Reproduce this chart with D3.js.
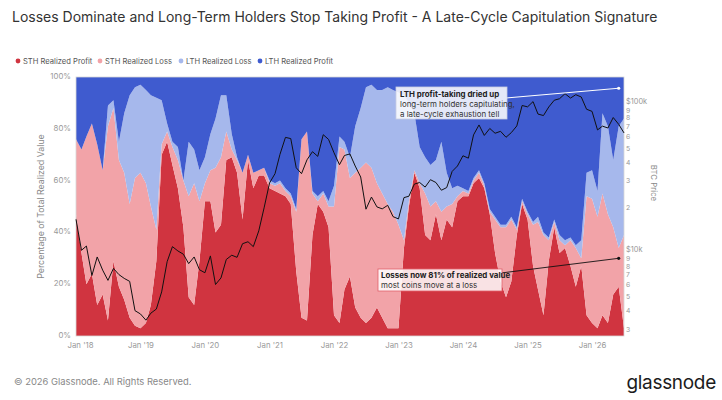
<!DOCTYPE html>
<html>
<head>
<meta charset="utf-8">
<script src="https://cdn.jsdelivr.net/npm/d3@7"></script>
<style>
  body { margin: 0; background: #fff; }
  svg text { font-family: Inter, "Noto Sans", sans-serif; }
</style>
</head>
<body>
<svg id="chart" width="722" height="400"></svg>
<script>
// monthly observations, Jan 2018 .. Jul 2026
const months = [
  "2018-01","2018-02","2018-03","2018-04","2018-05","2018-06","2018-07","2018-08","2018-09","2018-10","2018-11","2018-12",
  "2019-01","2019-02","2019-03","2019-04","2019-05","2019-06","2019-07","2019-08","2019-09","2019-10","2019-11","2019-12",
  "2020-01","2020-02","2020-03","2020-04","2020-05","2020-06","2020-07","2020-08","2020-09","2020-10","2020-11","2020-12",
  "2021-01","2021-02","2021-03","2021-04","2021-05","2021-06","2021-07","2021-08","2021-09","2021-10","2021-11","2021-12",
  "2022-01","2022-02","2022-03","2022-04","2022-05","2022-06","2022-07","2022-08","2022-09","2022-10","2022-11","2022-12",
  "2023-01","2023-02","2023-03","2023-04","2023-05","2023-06","2023-07","2023-08","2023-09","2023-10","2023-11","2023-12",
  "2024-01","2024-02","2024-03","2024-04","2024-05","2024-06","2024-07","2024-08","2024-09","2024-10","2024-11","2024-12",
  "2025-01","2025-02","2025-03","2025-04","2025-05","2025-06","2025-07","2025-08","2025-09","2025-10","2025-11","2025-12",
  "2026-01","2026-02","2026-03","2026-04","2026-05","2026-06","2026-07"
];

// share of total realized value, %
const sthProfit = [47,32,20,24,12,16,6,29,19,14,7,4, 3,5,12,29,70,75,66,57,42,15,12,29,
  52,52,40,43,68,69,63,45,68,57,62,62, 57,56,55,54,51,25,7,6,39,51,48,42,
  8,5,18,23,11,7,5,7,11,7,3,3, 3,34,50,63,57,39,37,47,37,45,42,52,
  54,54,59,61,57,47,32,21,15,21,39,51, 45,27,18,8,29,42,32,34,27,19,27,8,
  5,3,8,5,16,19,3];
const sthLoss = [29,40,57,58,62,48,75,59,49,49,44,57, 60,54,38,12,4,4,7,11,18,39,47,23,
  7,12,25,26,11,3,5,18,2,6,2,3, 2,2,4,2,3,23,69,73,16,1,7,8,
  42,68,54,38,52,58,62,58,48,48,48,45, 40,3,2,1,2,16,13,5,11,5,9,2,
  2,1,1,2,1,1,13,21,27,24,2,1, 2,16,26,31,8,2,5,1,10,15,3,46,
  48,43,47,42,26,15,36];
const lthLoss = [0,0,0,0,0,0,8,3,7,23,42,35, 34,36,43,51,17,3,2,5,0,21,13,12,
  10,14,19,24,14,6,1,0,0,0,0,0, 1,1,1,1,1,1,0,0,1,2,1,2,
  8,4,3,8,18,23,29,32,36,40,45,47, 51,56,38,22,14,14,16,16,27,13,6,4,
  1,1,1,1,1,1,1,1,1,1,1,1, 1,1,2,1,1,1,2,2,1,1,7,9,
  11,10,31,34,26,47,45];
const lthProfit = [24,28,23,18,26,36,11,9,25,14,7,4, 3,5,7,8,9,18,25,27,40,25,28,36,
  31,22,16,7,7,22,31,37,30,37,36,35, 40,41,40,43,45,51,24,21,44,46,44,48,
  42,23,25,31,19,12,4,3,5,5,4,5, 6,7,10,14,27,31,34,32,25,37,43,42,
  43,44,39,36,41,51,54,57,57,54,58,47, 52,56,54,60,62,55,61,63,62,65,63,37,
  36,44,14,19,32,19,16];

// BTC price, USD
const btcPrice = [16500,10200,10900,6900,9200,7500,6400,7700,7000,6600,6300,4000,
  3800,3450,3850,4100,5350,8550,10800,10100,9600,8300,9200,7550,
  7200,9350,6000,6650,8850,9450,9150,11300,11650,10800,13800,19700,
  29000,33500,45200,58800,57700,36700,33500,41500,47100,43800,61300,57000,
  46300,38500,44400,45500,37700,31800,19300,23300,20000,19400,20500,17200,
  16600,23100,23600,28500,29200,27200,30500,29200,25900,27000,34700,37700,
  44200,42600,61100,71300,60600,67500,62700,64600,58900,63300,70200,96400,
  94400,102400,84400,82500,94200,104600,107100,115800,108200,114000,110000,91000,
  88000,66000,70000,68000,80000,72000,63000];

const seriesKeys = ["sthProfit", "sthLoss", "lthLoss", "lthProfit"];
const seriesNames = ["STH Realized Profit", "STH Realized Loss", "LTH Realized Loss", "LTH Realized Profit"];
const seriesColors = ["#d03440", "#f2a3a8", "#a6b8ec", "#3f5bcf"];

const pctTicks = [0, 20, 40, 60, 80, 100];
const priceTicks = [3000,4000,5000,6000,7000,8000,9000,10000,20000,30000,40000,50000,60000,70000,80000,90000,100000];
const yearTicks = ["2018","2019","2020","2021","2022","2023","2024","2025","2026"];

const margin = { left: 76, right: 624, top: 77, bottom: 336 };

const parseMonth = d3.timeParse("%Y-%m");
const rows = months.map((m, i) => ({
  date: parseMonth(m),
  sthProfit: sthProfit[i], sthLoss: sthLoss[i], lthLoss: lthLoss[i], lthProfit: lthProfit[i],
  price: btcPrice[i]
}));

const svg = d3.select("#chart");

const x = d3.scaleTime()
  .domain([parseMonth("2018-01"), parseMonth("2026-07")])
  .range([margin.left, margin.right]);
const y = d3.scaleLinear().domain([0, 100]).range([margin.bottom, margin.top]);
const yPrice = d3.scaleLog().domain([2700, 150000]).range([margin.bottom, margin.top]);

// title
svg.append("text")
  .attr("x", 12).attr("y", 22)
  .attr("font-size", 14).attr("fill", "#333")
  .text("Losses Dominate and Long-Term Holders Stop Taking Profit - A Late-Cycle Capitulation Signature");

// legend
const legendX = [18, 100, 181, 260];
const legend = svg.append("g");
seriesNames.forEach((name, i) => {
  const g = legend.append("g").attr("transform", `translate(${legendX[i]},61)`);
  g.append("circle").attr("r", 2.4).attr("fill", seriesColors[i]);
  g.append("text").attr("x", 5).attr("y", 2.8)
    .attr("font-size", 7.6).attr("fill", "#555").text(name);
});

// stacked areas
const stack = d3.stack().keys(seriesKeys);
const stacked = stack(rows);
const area = d3.area()
  .x(d => x(d.data.date))
  .y0(d => y(d[0]))
  .y1(d => y(d[1]));

svg.append("g")
  .selectAll("path")
  .data(stacked)
  .enter()
  .append("path")
  .attr("d", area)
  .attr("fill", (d, i) => seriesColors[i]);

svg.append("rect")
  .attr("x", margin.left).attr("y", margin.top)
  .attr("width", margin.right - margin.left).attr("height", margin.bottom - margin.top)
  .attr("fill", "none").attr("stroke", "#d8d8d8").attr("stroke-width", 0.8);

// BTC price line
const priceLine = d3.line()
  .x(d => x(d.date))
  .y(d => yPrice(d.price));
svg.append("path")
  .datum(rows)
  .attr("d", priceLine)
  .attr("fill", "none")
  .attr("stroke", "#111")
  .attr("stroke-width", 1);

// left axis
const leftAxis = svg.append("g")
  .attr("transform", `translate(${margin.left - 2},0)`)
  .call(d3.axisLeft(y).tickValues(pctTicks).tickFormat(d => d + "%").tickSize(0));
leftAxis.select(".domain").remove();
leftAxis.selectAll("text").attr("font-size", 7.8).attr("fill", "#999").attr("dy", "0.2em");

svg.append("text")
  .attr("transform", `translate(44,${(margin.top + margin.bottom) / 2}) rotate(-90)`)
  .attr("text-anchor", "middle")
  .attr("font-size", 8.8).attr("fill", "#888")
  .text("Percentage of Total Realized Value");

// right axis (log)
const rightAxis = svg.append("g")
  .attr("transform", `translate(${margin.right + 2},0)`)
  .call(d3.axisRight(yPrice).tickValues(priceTicks).tickSize(0)
    .tickFormat(d => d === 10000 ? "$10k" : d === 100000 ? "$100k" : String(d).charAt(0)));
rightAxis.select(".domain").remove();
rightAxis.selectAll("text").attr("font-size", 6.8).attr("fill", "#999").attr("x", 0).attr("dy", "0.32em");
rightAxis.selectAll(".tick text")
  .filter(d => d === 10000 || d === 100000)
  .attr("font-size", 7.4).attr("dy", "0.05em");

svg.append("text")
  .attr("transform", `translate(651,183) rotate(90)`)
  .attr("text-anchor", "middle")
  .attr("font-size", 7.8).attr("fill", "#888")
  .text("BTC Price");

// bottom axis
const bottomAxis = svg.append("g")
  .attr("transform", `translate(0,${margin.bottom + 2})`)
  .call(d3.axisBottom(x)
    .tickValues(yearTicks.map(yr => d3.timeParse("%Y")(yr)))
    .tickFormat(d3.timeFormat("Jan '%y"))
    .tickSize(0));
bottomAxis.select(".domain").remove();
bottomAxis.selectAll("text").attr("font-size", 7.8).attr("fill", "#999").attr("dy", "0.9em");
bottomAxis.select(".tick text").attr("dx", 4);

// annotations
const ann1 = svg.append("g");
ann1.append("line")
  .attr("x1", 506).attr("y1", 98)
  .attr("x2", x(parseMonth("2026-06"))).attr("y2", yPrice(126000))
  .attr("stroke", "#fff").attr("stroke-width", 1);
ann1.append("circle")
  .attr("cx", x(parseMonth("2026-06"))).attr("cy", yPrice(126000)).attr("r", 1.6).attr("fill", "#fff");
ann1.append("rect")
  .attr("x", 396).attr("y", 87).attr("width", 111).attr("height", 32)
  .attr("fill", "rgba(255,255,255,0.86)").attr("stroke", "#c8cde0").attr("stroke-width", 0.8);
const t1 = ann1.append("text").attr("x", 400).attr("y", 97).attr("font-size", 7.9).attr("fill", "#222");
t1.append("tspan").attr("font-weight", 700).text("LTH profit-taking dried up");
t1.append("tspan").attr("x", 400).attr("dy", 10).attr("fill", "#333").text("long-term holders capitulating,");
t1.append("tspan").attr("x", 400).attr("dy", 10).attr("fill", "#333").text("a late-cycle exhaustion tell");

const ann2 = svg.append("g");
ann2.append("line")
  .attr("x1", 501).attr("y1", 273)
  .attr("x2", x(parseMonth("2026-06"))).attr("y2", y(30))
  .attr("stroke", "#111").attr("stroke-width", 0.9);
ann2.append("circle")
  .attr("cx", x(parseMonth("2026-06"))).attr("cy", y(30)).attr("r", 1.6).attr("fill", "#111");
ann2.append("rect")
  .attr("x", 378).attr("y", 269).attr("width", 124).attr("height", 22)
  .attr("fill", "rgba(255,255,255,0.86)").attr("stroke", "#e0606a").attr("stroke-width", 0.8);
const t2 = ann2.append("text").attr("x", 381).attr("y", 278).attr("font-size", 7.9).attr("fill", "#222");
t2.append("tspan").attr("font-weight", 700).text("Losses now 81% of realized value");
t2.append("tspan").attr("x", 381).attr("dy", 10).attr("fill", "#333").text("most coins move at a loss");

// footer
svg.append("text")
  .attr("x", 14).attr("y", 385)
  .attr("font-size", 9.4).attr("fill", "#888")
  .text("© 2026 Glassnode. All Rights Reserved.");
svg.append("text")
  .attr("x", 716).attr("y", 389)
  .attr("text-anchor", "end")
  .attr("font-size", 19).attr("fill", "#1c1c1c").attr("letter-spacing", -0.3)
  .text("glassnode");
</script>
</body>
</html>
